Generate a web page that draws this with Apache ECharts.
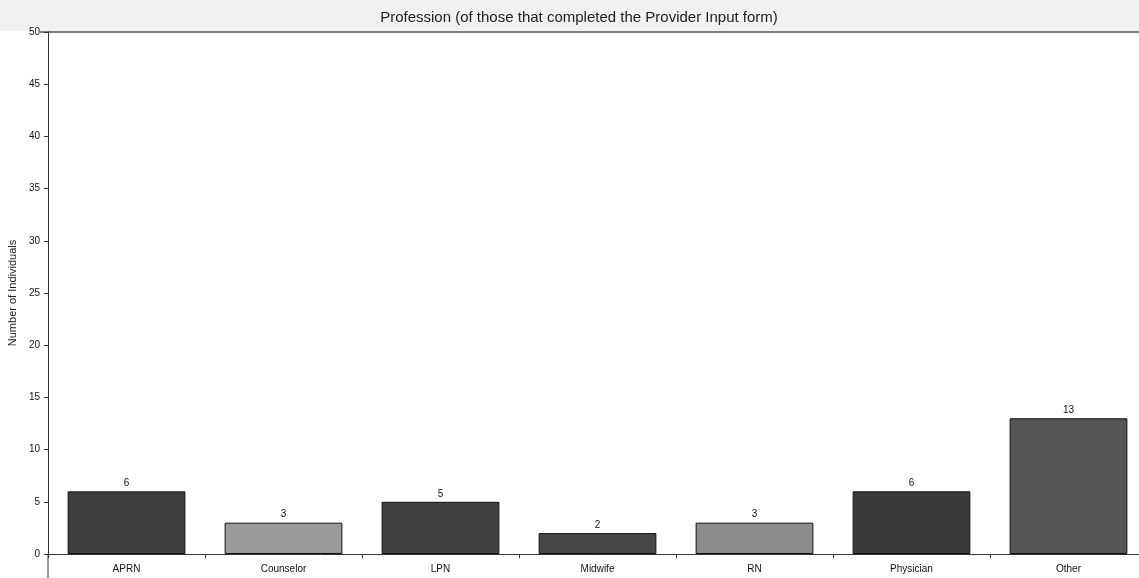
<!DOCTYPE html>
<html>
<head>
<meta charset="utf-8">
<script src="https://cdn.jsdelivr.net/npm/echarts@6/dist/echarts.min.js"></script>
<style>
  html, body { margin: 0; padding: 0; background: #fff; }
  #chart { width: 1139px; height: 578px; }
</style>
</head>
<body>
<div id="chart"></div>
<script>
// Professions of respondents who completed the Provider Input form
const professions = ['APRN', 'Counselor', 'LPN', 'Midwife', 'RN', 'Physician', 'Other'];
const individuals = [6, 3, 5, 2, 3, 6, 13];
const barColors = ['#3e3e3e', '#9a9a9a', '#404040', '#474747', '#8c8c8c', '#3b3b3b', '#565656'];
const yTicks = [0, 5, 10, 15, 20, 25, 30, 35, 40, 45, 50];

const chart = echarts.init(document.getElementById('chart'), null, { renderer: 'canvas' });

chart.setOption({
  animation: false,
  backgroundColor: '#ffffff',
  title: {
    text: 'Profession (of those that completed the Provider Input form)',
    left: 574,
    textAlign: 'center',
    top: 5,
    textStyle: { fontFamily: 'Liberation Sans, Arial, sans-serif', fontSize: 15, fontWeight: 'normal', color: '#222' }
  },
  graphic: [
    { type: 'rect', z: -1, shape: { x: 0, y: 0, width: 1139, height: 31 }, style: { fill: '#f1f1f1' } },
    { type: 'line', shape: { x1: 40, y1: 32, x2: 1139, y2: 32 }, style: { stroke: '#555', lineWidth: 1.5 } },
    { type: 'line', shape: { x1: 48, y1: 554, x2: 48, y2: 578 }, style: { stroke: '#333', lineWidth: 1 } }
  ],
  grid: { left: 48, top: 32, bottom: 24, width: 1099, containLabel: false, outerBoundsMode: 'none' },
  xAxis: {
    type: 'category',
    data: professions,
    axisLine: { lineStyle: { color: '#333', width: 1 } },
    axisTick: { show: true, length: 4, lineStyle: { color: '#333' } },
    axisLabel: { fontFamily: 'Liberation Sans, Arial, sans-serif', fontSize: 10, color: '#111', margin: 10 }
  },
  yAxis: {
    type: 'value',
    min: 0,
    max: 50,
    interval: 5,
    name: 'Number of Individuals',
    nameLocation: 'middle',
    nameGap: 28,
    nameRotate: 90,
    nameTextStyle: { fontFamily: 'Liberation Sans, Arial, sans-serif', fontSize: 11, color: '#222' },
    axisLine: { show: true, lineStyle: { color: '#333', width: 1 } },
    axisTick: { show: true, length: 4, lineStyle: { color: '#333' } },
    splitLine: { show: false },
    axisLabel: {
      fontFamily: 'Liberation Sans, Arial, sans-serif', fontSize: 10, color: '#111', margin: 8,
      formatter: v => (yTicks.indexOf(v) >= 0 ? String(v) : '')
    }
  },
  series: [{
    type: 'bar',
    data: individuals.map((v, i) => ({ value: v, itemStyle: { color: barColors[i] } })),
    barCategoryGap: '25%',
    itemStyle: { borderColor: '#111', borderWidth: 1 },
    label: {
      show: true,
      position: 'top',
      distance: 3,
      fontFamily: 'Liberation Sans, Arial, sans-serif',
      fontSize: 10,
      color: '#111'
    }
  }]
});
</script>
</body>
</html>
